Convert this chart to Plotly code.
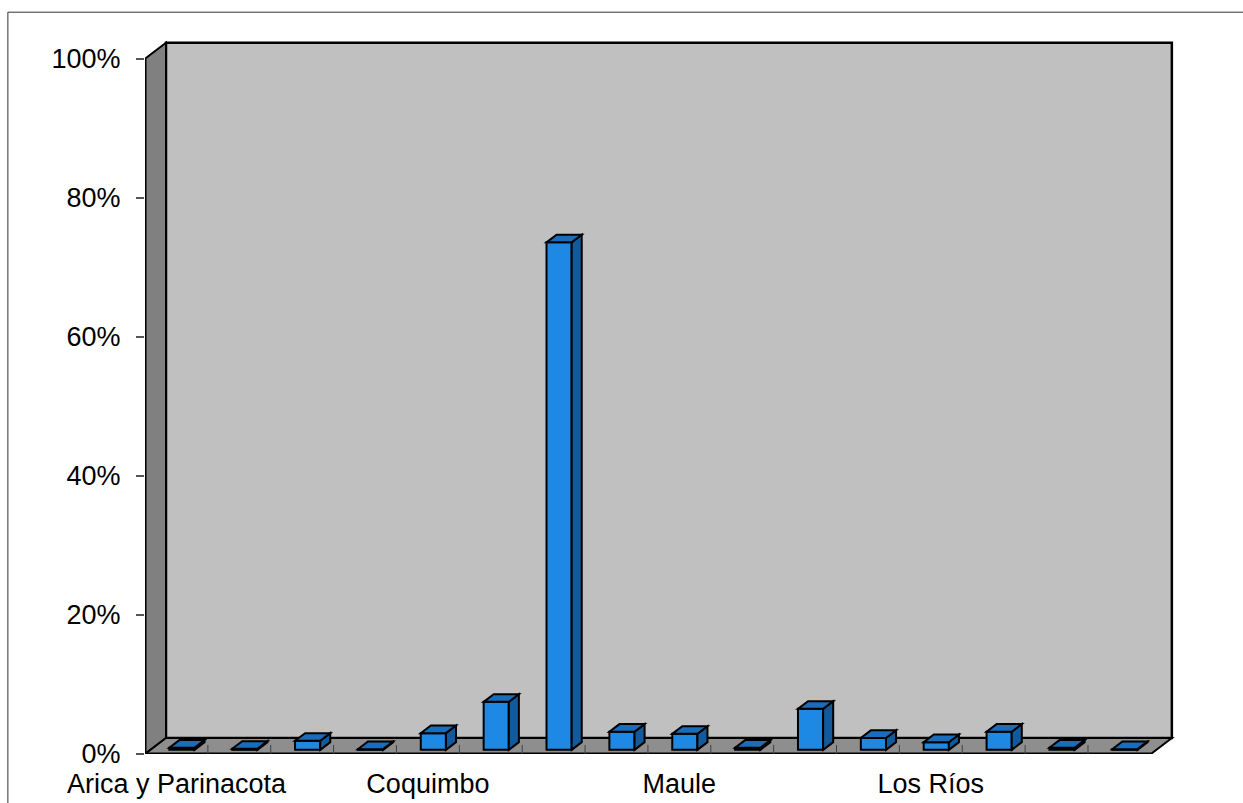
import plotly.graph_objects as go

# Regions of Chile, north to south, with their share (%)
regions = [
    "Arica y Parinacota", "Tarapacá", "Antofagasta", "Atacama", "Coquimbo",
    "Valparaíso", "Metropolitana", "O'Higgins", "Maule", "Ñuble", "Biobío",
    "Araucanía", "Los Ríos", "Los Lagos", "Aysén", "Magallanes",
]
shares = [0.3, 0.15, 1.3, 0.1, 2.4, 6.9, 73.0, 2.6, 2.3, 0.3, 5.9, 1.7, 1.1, 2.6, 0.3, 0.1]
labelled = [regions[i] for i in (0, 4, 8, 12)]
y_ticks = [0, 20, 40, 60, 80, 100]

# pseudo-3D geometry (axis units)
DX, DY = 0.334, 2.30          # full depth of the box
T0, T1 = 0.26, 0.74           # bar front / back depth fraction
BAR_W = 0.40
N = len(regions)
X0, X1 = -0.5, N - 0.5

FRONT = "#1e88e5"
SIDE = "#135a9c"
TOP = "#1a6dba"

shapes = []


def poly(pts, fill, line="black", width=2, layer="below"):
    d = "M " + " L ".join(f"{x},{y}" for x, y in pts) + " Z"
    shapes.append(dict(type="path", path=d, xref="x", yref="y", fillcolor=fill,
                       line=dict(color=line, width=width), layer=layer))


def seg(x0, y0, x1, y1, color="black", width=2, layer="below"):
    shapes.append(dict(type="line", x0=x0, y0=y0, x1=x1, y1=y1, xref="x", yref="y",
                       line=dict(color=color, width=width), layer=layer))


# back wall, side wall, floor
poly([(X0 + DX, DY), (X1 + DX, DY), (X1 + DX, 100 + DY), (X0 + DX, 100 + DY)], "#c0c0c0", width=2.5)
poly([(X0, 0), (X0, 100), (X0 + DX, 100 + DY), (X0 + DX, DY)], "#808080", width=2)
poly([(X0, 0), (X1, 0), (X1 + DX, DY), (X0 + DX, DY)], "#8e8e8e", width=2)
seg(X0, 0, X1, 0, width=3)
seg(X0, 0, X0, 100, width=3)
for i in range(N - 1):
    seg(i + 0.5, 0, i + 0.5, 1.3, color="#404040", width=1)

# top and side faces of each column
base = T0 * DY
ddx, ddy = (T1 - T0) * DX, (T1 - T0) * DY
for i, v in enumerate(shares):
    xl = i - BAR_W / 2 + T0 * DX
    xr = xl + BAR_W
    top = base + v
    poly([(xr, base), (xr + ddx, base + ddy), (xr + ddx, top + ddy), (xr, top)], SIDE, layer="above")
    poly([(xl, top), (xr, top), (xr + ddx, top + ddy), (xl + ddx, top + ddy)], TOP, layer="above")

# outer frame
shapes.append(dict(type="rect", xref="paper", yref="paper", x0=-0.133, x1=1.2, y0=-0.8, y1=1.026,
                   line=dict(color="#333333", width=1), fillcolor="rgba(0,0,0,0)", layer="below"))

fig = go.Figure(go.Bar(
    x=regions, y=shares, base=base, width=BAR_W, offset=-BAR_W / 2 + T0 * DX,
    marker=dict(color=FRONT, line=dict(color="black", width=2)),
    hovertemplate="%{x}: %{y}%<extra></extra>",
))

fig.update_layout(
    width=1243, height=803,
    margin=dict(l=145, r=67, t=31, b=49, autoexpand=False),
    paper_bgcolor="white", plot_bgcolor="white",
    font=dict(family="Liberation Sans, Arial, sans-serif", size=27, color="black"),
    showlegend=False,
    shapes=shapes,
    xaxis=dict(type="category", range=[X0, X1 + 0.4], showgrid=False, zeroline=False,
               showline=False, ticks="", tickmode="array", tickvals=labelled, ticktext=labelled,
               tickangle=0, ticklabelstandoff=11, automargin=False),
    yaxis=dict(range=[0, 104], showgrid=False, zeroline=False, showline=False,
               tickmode="array", tickvals=y_ticks, ticktext=[f"{t}%" for t in y_ticks],
               ticks="outside", ticklen=8, tickwidth=2, tickcolor="#555555",
               ticklabelstandoff=10, automargin=False),
)

fig.write_html("out.html")
